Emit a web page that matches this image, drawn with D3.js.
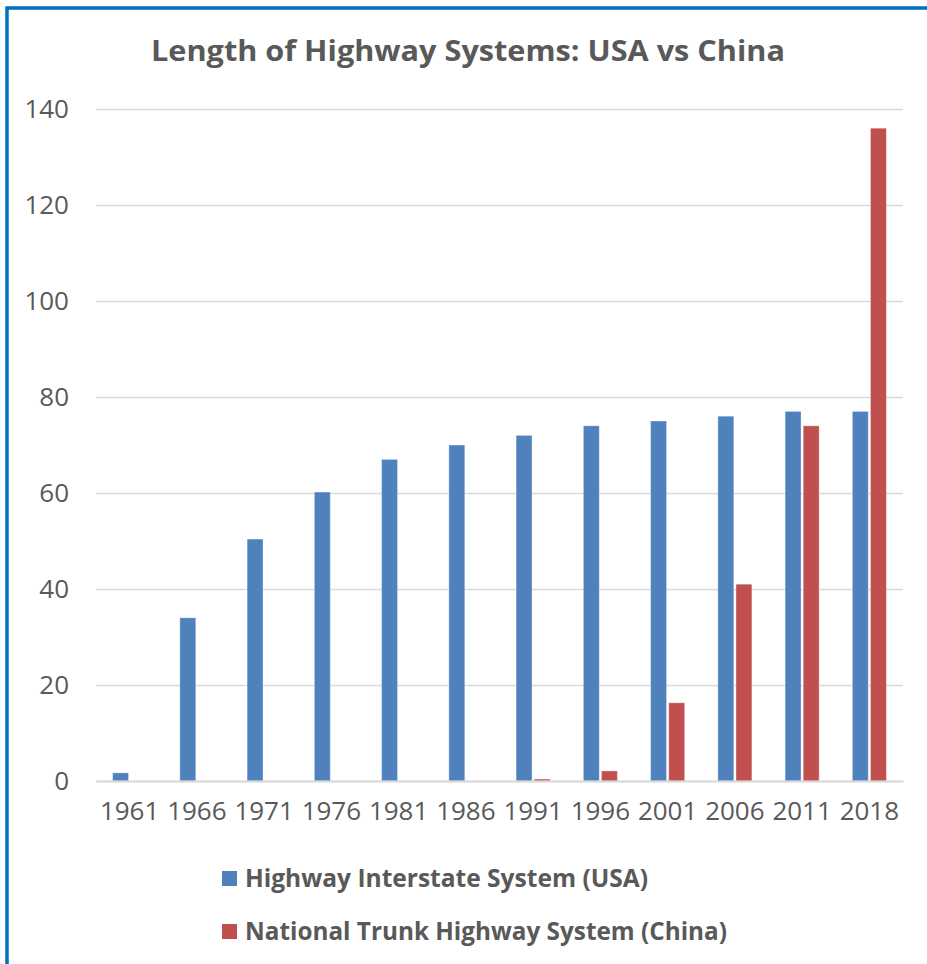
<!DOCTYPE html>
<html>
<head>
<meta charset="utf-8">
<script src="https://cdn.jsdelivr.net/npm/d3@7"></script>
<style>
  body { margin: 0; background: #fff; }
  svg { display: block; font-family: "Open Sans", sans-serif; }
</style>
</head>
<body>
<svg id="chart" width="927" height="964"></svg>
<script>
// ---- data ----
var years = ["1961", "1966", "1971", "1976", "1981", "1986", "1991", "1996", "2001", "2006", "2011", "2018"];
var usa   = [1.7, 34, 50.4, 60.2, 67, 70, 72, 74, 75, 76, 77, 77];
var china = [0, 0, 0, 0, 0, 0, 0.4, 2.1, 16.3, 41, 74, 136];
var seriesNames = ["Highway Interstate System (USA)", "National Trunk Highway System (China)"];
var yTicks = [0, 20, 40, 60, 80, 100, 120, 140];

var svg = d3.select("#chart"),
    W = +svg.attr("width"),
    H = +svg.attr("height");

// outer frame (blue border running off the bottom / right)
svg.append("rect")
    .attr("x", 7).attr("y", 8)
    .attr("width", W + 20).attr("height", H + 20)
    .attr("fill", "none")
    .attr("stroke", "#0070C0")
    .attr("stroke-width", 3.5);

var plot = {left: 96, right: 903, top: 109, bottom: 781};

var x0 = d3.scaleBand()
    .domain(years)
    .range([plot.left, plot.right])
    .paddingInner(0.494)
    .paddingOuter(0.247);

var x1 = d3.scaleBand()
    .domain([0, 1])
    .range([0, x0.bandwidth()])
    .paddingInner(0.12);

var y = d3.scaleLinear()
    .domain([0, 140])
    .range([plot.bottom, plot.top]);

var color = ["#4F81BD", "#C0504D"];

// title
svg.append("text")
    .attr("x", 468)
    .attr("y", 61)
    .attr("text-anchor", "middle")
    .attr("font-size", 29)
    .attr("font-weight", "bold")
    .attr("fill", "#595959")
    .attr("textLength", 634)
    .attr("lengthAdjust", "spacingAndGlyphs")
    .text("Length of Highway Systems: USA vs China");

// gridlines + y labels
var yAxis = svg.append("g")
    .attr("transform", "translate(" + plot.left + ",0)")
    .call(d3.axisLeft(y).tickValues(yTicks).tickSize(-(plot.right - plot.left)).tickPadding(27));
yAxis.select(".domain").remove();
yAxis.selectAll(".tick line").attr("stroke", "#d9d9d9").attr("stroke-width", 1.5);
yAxis.selectAll(".tick text")
    .attr("font-size", 26)
    .attr("font-family", "Open Sans, sans-serif")
    .attr("fill", "#595959");

// bars
var data = [usa, china];
var groups = svg.append("g").selectAll("g")
    .data(data)
    .enter().append("g")
      .attr("fill", function(d, i) { return color[i]; });

groups.selectAll("rect")
    .data(function(d, i) { return d.map(function(v, j) { return {s: i, year: years[j], v: v}; }); })
    .enter().append("rect")
      .filter(function(d) { return d.v > 0; })
      .attr("x", function(d) { return x0(d.year) + x1(d.s); })
      .attr("y", function(d) { return y(d.v); })
      .attr("width", x1.bandwidth())
      .attr("height", function(d) { return y(0) - y(d.v); })
      .attr("stroke", "#ffffff")
      .attr("stroke-opacity", 0.35)
      .attr("stroke-width", 1);

// x axis
var xAxis = svg.append("g")
    .attr("transform", "translate(0," + plot.bottom + ")")
    .call(d3.axisBottom(x0).tickSize(0).tickPadding(21));
xAxis.select(".domain").attr("stroke", "#d9d9d9").attr("stroke-width", 2);
xAxis.selectAll(".tick text")
    .attr("font-size", 26)
    .attr("font-family", "Open Sans, sans-serif")
    .attr("fill", "#595959");

// legend
var legendWidths = [403, 482];
var legend = svg.append("g").selectAll("g")
    .data(seriesNames)
    .enter().append("g")
      .attr("transform", function(d, i) { return "translate(222," + (871 + i * 53) + ")"; });

legend.append("rect")
    .attr("width", 15)
    .attr("height", 15)
    .attr("fill", function(d, i) { return color[i]; });

legend.append("text")
    .attr("x", 23)
    .attr("y", 16)
    .attr("font-size", 25)
    .attr("font-weight", "bold")
    .attr("fill", "#595959")
    .attr("textLength", function(d, i) { return legendWidths[i]; })
    .attr("lengthAdjust", "spacingAndGlyphs")
    .text(function(d) { return d; });
</script>
</body>
</html>
